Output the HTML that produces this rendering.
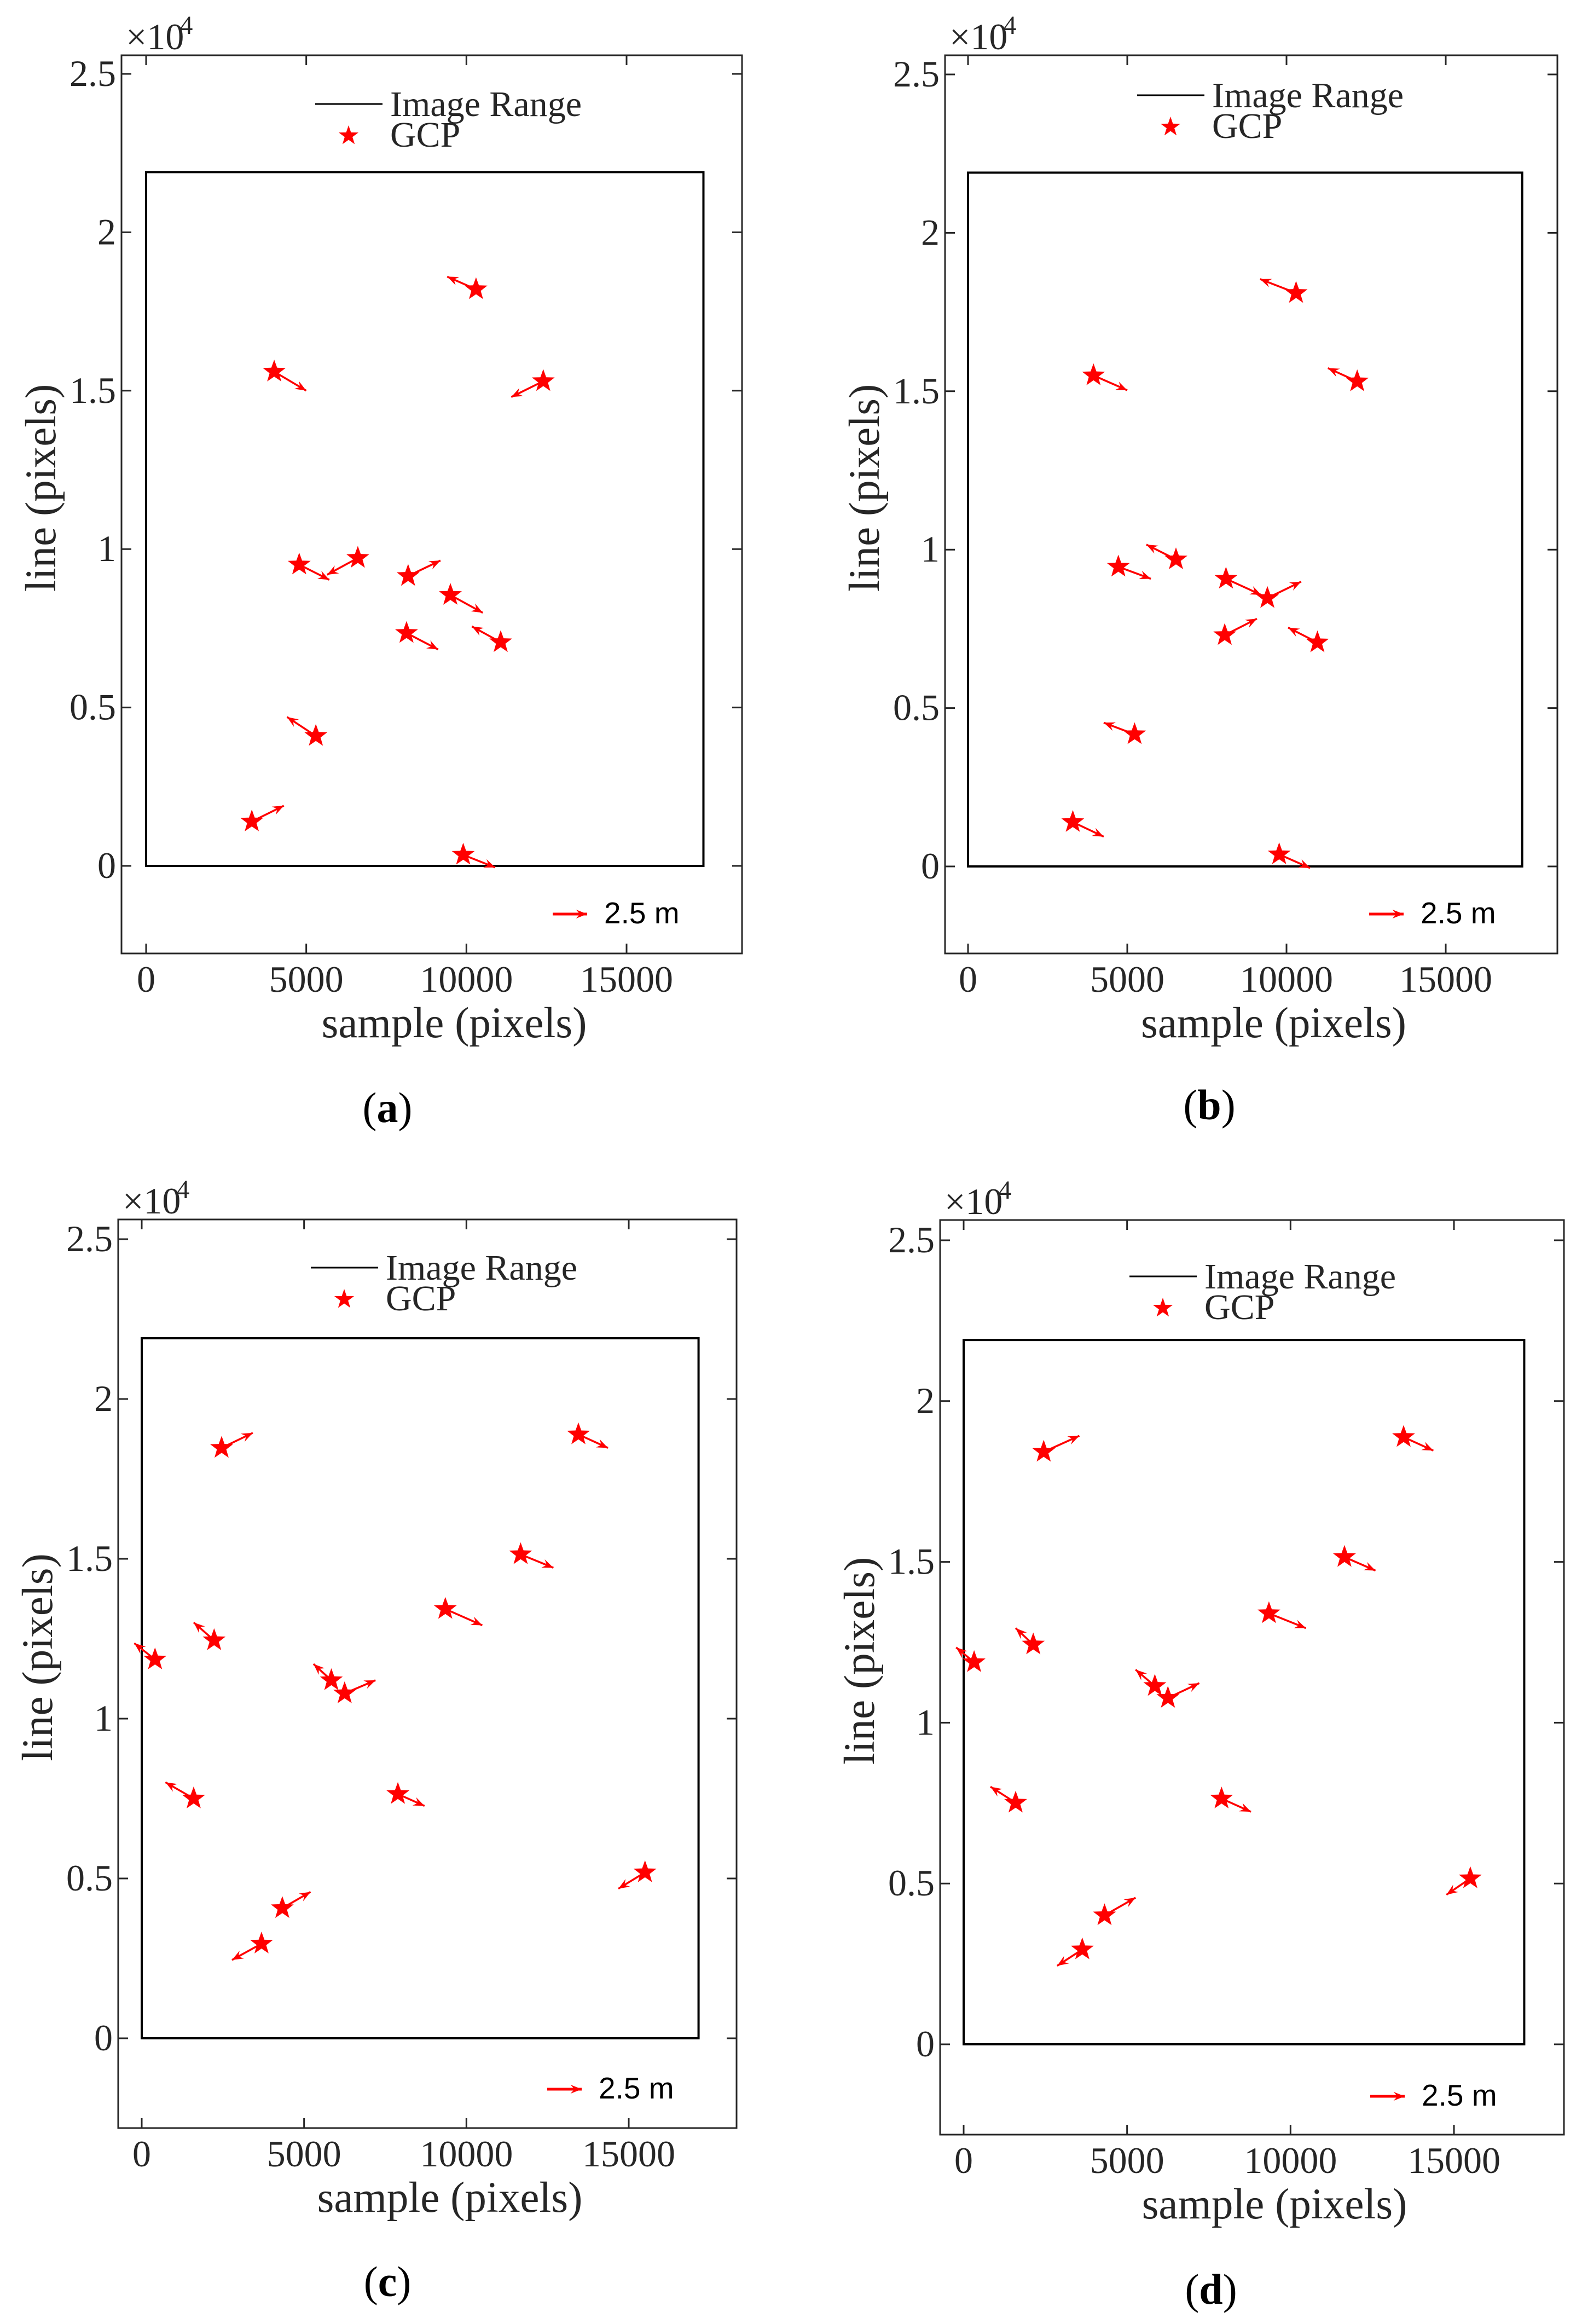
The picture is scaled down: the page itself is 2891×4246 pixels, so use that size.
<!DOCTYPE html>
<html><head><meta charset="utf-8"><style>
html,body{margin:0;padding:0;background:#fff;}
svg{display:block;}
text{font-family:"Liberation Serif",serif;fill:#262626;}
</style></head><body>
<svg id="fig" width="2891" height="4246" viewBox="0 0 2891 4246" xmlns="http://www.w3.org/2000/svg"></svg>
<script>
// Panel (a)
const aStarX=[10300,4000,12400,4780,6610,8180,9500,8130,11070,5300,3300,9900];
const aStarY=[18200,15600,15300,9510,9720,9150,8550,7350,7060,4100,1400,350];
const aTipX=[9400,5000,11400,5720,5650,9190,10510,9120,10170,4400,4300,10900];
const aTipY=[18600,15000,14800,9030,9190,9640,7990,6830,7560,4700,1900,-50];
// Panel (b)
const bStarX=[10300,12220,3940,6530,4720,8100,9400,8060,10970,5230,3290,9770];
const bStarY=[18100,15310,15500,9690,9460,9080,8470,7300,7070,4170,1400,380];
const bTipX=[9170,11300,5000,5600,5740,9210,10460,9070,10050,4260,4260,10740];
const bTipY=[18540,15730,15030,10160,9080,8570,8990,7820,7540,4540,940,-50];
// Panel (c)
const cStarX=[2460,13450,11670,9350,2230,410,5840,6250,1600,7890,15500,4330,3690];
const cStarY=[18470,18890,15140,13430,12450,11850,11200,10790,7500,7640,5190,4070,2960];
const cTipX=[3420,14360,12680,10490,1600,-230,5290,7200,730,8710,14680,5200,2780];
const cTipY=[18940,18470,14720,12920,13010,12360,11710,11200,8010,7270,4680,4580,2450];
// Panel (d)
const dStarX=[2450,13460,11650,9340,2130,320,5850,6250,1590,7890,15500,4310,3630];
const dStarY=[18420,18880,15150,13400,12430,11880,11140,10770,7510,7640,5160,4010,2950];
const dTipX=[3540,14370,12600,10470,1590,-230,5260,7210,820,8790,14770,5260,2860];
const dTipY=[18920,18460,14730,12940,12940,12340,11650,11230,8010,7230,4650,4560,2440];
// shared
const xTicks=[0,5000,10000,15000];
const xTickLabels=["0","5000","10000","15000"];
const yTicks=[0,5000,10000,15000,20000,25000];
const yTickLabels=["0","0.5","1","1.5","2","2.5"];
const rangeXab=[0,17400];
const rangeXcd=[0,17150];
const rangeY=[0,21900];

const NS="http://www.w3.org/2000/svg";
const svg=document.getElementById('fig');
function mk(tag,attrs,parent){const e=document.createElementNS(NS,tag);for(const k in attrs)e.setAttribute(k,attrs[k]);(parent||svg).appendChild(e);return e;}
function starPath(cx,cy,R,r){let d='';for(let i=0;i<10;i++){const a=-Math.PI/2+i*Math.PI/5;const rr=i%2?r:R;d+=(i?'L':'M')+(cx+rr*Math.cos(a)).toFixed(1)+' '+(cy+rr*Math.sin(a)).toFixed(1);}return d+'Z';}
function arrow(g,x1,y1,x2,y2,w){
  const ln=mk('line',{x1:x1,y1:y1,x2:x2,y2:y2,stroke:'#ff0000','stroke-width':w},g);
  
  
  const ang=Math.atan2(y2-y1,x2-x1),L=22,s=0.38;
  const p=[[x2,y2],[x2-L*Math.cos(ang-s),y2-L*Math.sin(ang-s)],[x2-L*0.6*Math.cos(ang),y2-L*0.6*Math.sin(ang)],[x2-L*Math.cos(ang+s),y2-L*Math.sin(ang+s)]];
  const h=mk('polygon',{points:p.map(q=>q.join(',')).join(' '),fill:'#ff0000'},g);
  
  
}
const panels=[
 {id:'a',L:222,R:1356,T:101,B:1742,x0:267,x15:1145,y0:1582,y25:135,sx:aStarX,sy:aStarY,tx:aTipX,ty:aTipY,rx:rangeXab,leg:[576,190],scale:[1010,1670],cap:[708,2050]},
 {id:'b',L:1727,R:2846,T:101,B:1742,x0:1769,x15:2642,y0:1583,y25:136,sx:bStarX,sy:bStarY,tx:bTipX,ty:bTipY,rx:rangeXab,leg:[2078,174],scale:[2502,1670],cap:[2210,2045]},
 {id:'c',L:216,R:1346,T:2228,B:3888,x0:259,x15:1149,y0:3724,y25:2264,sx:cStarX,sy:cStarY,tx:cTipX,ty:cTipY,rx:rangeXcd,leg:[568,2316],scale:[1000,3817],cap:[708,4195]},
 {id:'d',L:1718,R:2858,T:2229,B:3900,x0:1761,x15:2657,y0:3735,y25:2266,sx:dStarX,sy:dStarY,tx:dTipX,ty:dTipY,rx:rangeXcd,leg:[2064,2332],scale:[2504,3830],cap:[2213,4209]}
];
panels.forEach(p=>{
  const X=v=>p.x0+(p.x15-p.x0)*v/15000;
  const Y=v=>p.y0+(p.y25-p.y0)*v/25000;
  const g=mk('g',{});
  
  
  const box=mk('rect',{x:p.L,y:p.T,width:p.R-p.L,height:p.B-p.T,fill:'none',stroke:'#262626','stroke-width':3},g);
  
  
  xTicks.forEach((v,i)=>{
    const x=X(v);
    mk('line',{x1:x,y1:p.B,x2:x,y2:p.B-18,stroke:'#262626','stroke-width':3},g);
    mk('line',{x1:x,y1:p.T,x2:x,y2:p.T+18,stroke:'#262626','stroke-width':3},g);
    const t=mk('text',{x:x,y:p.B+70,'font-size':68,'text-anchor':'middle'},g);
    t.textContent=xTickLabels[i];
    
    
  });
  yTicks.forEach((v,i)=>{
    const y=Y(v);
    mk('line',{x1:p.L,y1:y,x2:p.L+18,y2:y,stroke:'#262626','stroke-width':3},g);
    mk('line',{x1:p.R,y1:y,x2:p.R-18,y2:y,stroke:'#262626','stroke-width':3},g);
    const t=mk('text',{x:p.L-10,y:y+22,'font-size':68,'text-anchor':'end'},g);
    t.textContent=yTickLabels[i];
    
    
  });
  const ex=mk('text',{x:p.L+8,y:p.T-11,'font-size':68},g);
  
  
  ex.innerHTML='×10<tspan dy="-28" dx="-8" font-size="48">4</tspan>';
  const xl=mk('text',{x:(p.L+p.R)/2+41,y:p.B+153,'font-size':79,'text-anchor':'middle'},g);
  xl.textContent='sample (pixels)';
  
  
  const yc=(p.T+p.B)/2-30, xc=p.L-147;
  const yl=mk('text',{x:xc,y:yc,'font-size':79,'text-anchor':'middle',transform:`rotate(-90 ${xc} ${yc}) translate(0 26)`},g);
  yl.textContent='line (pixels)';
  
  
  const ir=mk('rect',{x:X(p.rx[0]),y:Y(rangeY[1]),width:X(p.rx[1])-X(p.rx[0]),height:Y(rangeY[0])-Y(rangeY[1]),fill:'none',stroke:'#000','stroke-width':4},g);
  
  
  p.sx.forEach((v,i)=>{
    const x1=X(v),y1=Y(p.sy[i]),x2=X(p.tx[i]),y2=Y(p.ty[i]);
    arrow(g,x1,y1,x2,y2,3.5);
    const s=mk('path',{d:starPath(x1,y1,22,9),fill:'#ff0000'},g);
    
    
  });
  const [lx,ly]=p.leg;
  const lg=mk('g',{},g);
  
  
  mk('line',{x1:lx,y1:ly,x2:lx+123,y2:ly,stroke:'#000','stroke-width':3},lg);
  const t1=mk('text',{x:lx+137,y:ly+22,'font-size':66},lg);
  t1.textContent='Image Range';
  
  
  mk('path',{d:starPath(lx+61,ly+58,19,7.5),fill:'#ff0000'},lg);
  const t2=mk('text',{x:lx+137,y:ly+78,'font-size':66},lg);
  t2.textContent='GCP';
  
  
  const [sx0,sy0]=p.scale;
  arrow(g,sx0,sy0,sx0+63,sy0,5);
  const st=mk('text',{x:sx0+94,y:sy0+17,'font-size':55,style:'font-family:"Liberation Sans",sans-serif;fill:#000'},g);
  st.textContent='2.5 m';
  
  
  const cp=mk('text',{x:p.cap[0],y:p.cap[1],'font-size':78,'text-anchor':'middle',style:'fill:#000'},g);
  cp.innerHTML='(<tspan font-weight="bold">'+p.id+'</tspan>)';
  
  
});
</script>
</body></html>
